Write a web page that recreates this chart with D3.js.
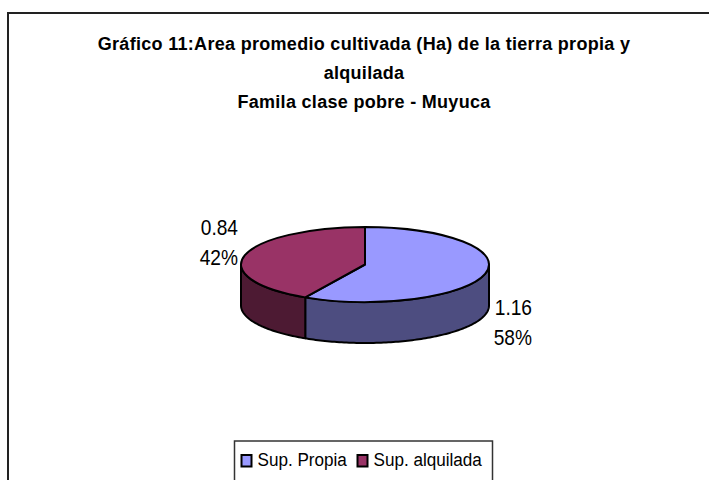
<!DOCTYPE html>
<html>
<head>
<meta charset="utf-8">
<script src="https://cdn.jsdelivr.net/npm/d3@7"></script>
<style>
html, body { margin: 0; background: #fff; }
svg { display: block; }
text { font-family: "Liberation Sans", Arial, sans-serif; fill: #000; }
</style>
</head>
<body>
<div id="chart"></div>
<script>
const width = 709;
const height = 480;

const titleLines = [
    "Gráfico 11:Area promedio cultivada (Ha) de la tierra propia y",
    "alquilada",
    "Famila clase pobre - Muyuca"
];
const categories = ["Sup. Propia", "Sup. alquilada"];
const values = [1.16, 0.84];
const percents = ["58%", "42%"];
const topColors = ["#9999ff", "#993366"];
const sideColors = ["#4d4d80", "#4d1a33"];

const cx = 365, cy = 264.5, rx = 124, ry = 37.5, depth = 41;

const svg = d3.select("#chart")
    .append("svg")
    .attr("width", width)
    .attr("height", height);

// outer frame, runs off the right and bottom of the picture
svg.append("rect")
    .attr("x", 8)
    .attr("y", 13)
    .attr("width", 760)
    .attr("height", 520)
    .attr("fill", "#fff")
    .attr("stroke", "#222")
    .attr("stroke-width", 2);

/* ------------------------
   TITLE
-------------------------*/
svg.selectAll(".title")
    .data(titleLines)
    .enter()
    .append("text")
    .attr("class", "title")
    .attr("x", 364)
    .attr("y", (d, i) => 50 + i * 29)
    .attr("text-anchor", "middle")
    .attr("font-size", 18)
    .attr("font-weight", "bold")
    .attr("letter-spacing", 0.3)
    .text(d => d);

/* ------------------------
   PIE
-------------------------*/
const pie = d3.pie().sort(null)(values);

const px = a => cx + rx * Math.sin(a);
const py = (a, off) => cy + off - ry * Math.cos(a);

// side wall of a slice: only the part of the rim facing the viewer
function sidePath(d) {
    const start = Math.max(d.startAngle, Math.PI / 2);
    const end = Math.min(d.endAngle, Math.PI * 1.5);
    const angles = d3.range(start, end, 0.02).concat([end]);
    const rim = d3.line()(angles.map(a => [px(a), py(a, 0)]));
    const low = d3.line()(angles.slice().reverse().map(a => [px(a), py(a, depth)]));
    return rim + "L" + low.slice(1) + "Z";
}

svg.selectAll(".side")
    .data(pie)
    .enter()
    .append("path")
    .attr("class", "side")
    .attr("d", sidePath)
    .attr("fill", (d, i) => sideColors[i])
    .attr("stroke", "#000")
    .attr("stroke-width", 2)
    .attr("stroke-linejoin", "round");

const arc = d3.arc().innerRadius(0).outerRadius(rx);

svg.selectAll(".top")
    .data(pie)
    .enter()
    .append("path")
    .attr("class", "top")
    .attr("d", arc)
    .attr("transform", `translate(${cx},${cy}) scale(1,${ry / rx})`)
    .attr("vector-effect", "non-scaling-stroke")
    .attr("fill", (d, i) => topColors[i])
    .attr("stroke", "#000")
    .attr("stroke-width", 2)
    .attr("stroke-linejoin", "round");

/* ------------------------
   LABELS
-------------------------*/
// the reference text is squeezed sideways, so tall font + x scale
const labelPos = [[532, 315], [238, 235]];

const labels = svg.selectAll(".label")
    .data(values)
    .enter()
    .append("g")
    .attr("class", "label")
    .attr("transform", (d, i) => `translate(${labelPos[i][0]},${labelPos[i][1]}) scale(0.87,1)`);

labels.append("text")
    .attr("text-anchor", "end")
    .attr("font-size", 22)
    .text(d => d.toFixed(2));

labels.append("text")
    .attr("text-anchor", "end")
    .attr("font-size", 22)
    .attr("y", 30)
    .text((d, i) => percents[i]);

/* ------------------------
   LEGEND
-------------------------*/
svg.append("rect")
    .attr("x", 234.5)
    .attr("y", 441)
    .attr("width", 258)
    .attr("height", 60)
    .attr("fill", "#fff")
    .attr("stroke", "#333")
    .attr("stroke-width", 1.5);

const legendX = [241.5, 357.5];

svg.selectAll(".swatch")
    .data(categories)
    .enter()
    .append("rect")
    .attr("class", "swatch")
    .attr("x", (d, i) => legendX[i])
    .attr("y", 455)
    .attr("width", 10)
    .attr("height", 11.5)
    .attr("fill", (d, i) => topColors[i])
    .attr("stroke", "#000")
    .attr("stroke-width", 2);

svg.selectAll(".legend-text")
    .data(categories)
    .enter()
    .append("text")
    .attr("class", "legend-text")
    .attr("transform", (d, i) => `translate(${legendX[i] + 16},466) scale(0.9,1)`)
    .attr("font-size", 19)
    .text(d => d);
</script>
</body>
</html>
